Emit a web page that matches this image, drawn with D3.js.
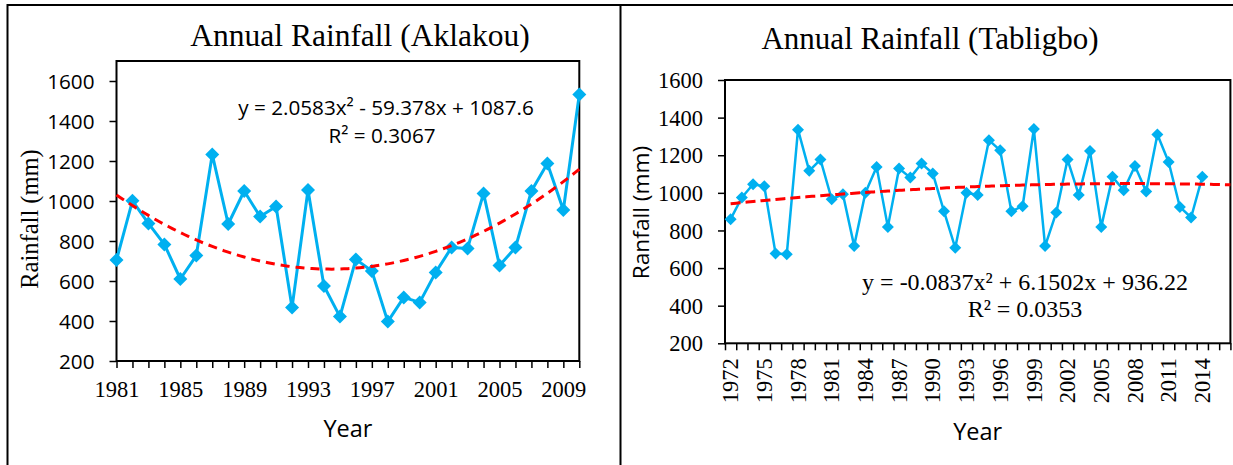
<!DOCTYPE html>
<html>
<head>
<meta charset="utf-8">
<script src="https://cdn.jsdelivr.net/npm/d3@7"></script>
<style>
  html, body { margin: 0; padding: 0; background: #fff; }
  svg { display: block; }
</style>
</head>
<body>
<svg id="chart" width="1233" height="465"></svg>
<script>
const SERIF = '"Liberation Serif", "Times New Roman", serif';
const SANS = '"Open Sans", "Noto Sans", sans-serif';
const BLUE = '#00B0F0';
const RED = '#FF0000';

// ---- Aklakou (1981-2010) ----
const aklakouYears = [1981, 1982, 1983, 1984, 1985, 1986, 1987, 1988, 1989, 1990,
  1991, 1992, 1993, 1994, 1995, 1996, 1997, 1998, 1999, 2000,
  2001, 2002, 2003, 2004, 2005, 2006, 2007, 2008, 2009, 2010];
const aklakouRain = [705, 1001, 888, 783, 610, 727, 1233, 885, 1050, 922,
  972, 467, 1055, 575, 422, 708, 650, 397, 518, 493,
  643, 768, 763, 1038, 677, 767, 1050, 1188, 955, 1533];
const aklakouXLabels = [1981, 1985, 1989, 1993, 1997, 2001, 2005, 2009];
const aklakouYTicks = [200, 400, 600, 800, 1000, 1200, 1400, 1600];
const aklakouTrend = [2.0583, -59.378, 1087.6]; // a x^2 + b x + c, x = 1..n
const aklakouEquation = ['y = 2.0583x\u00B2 - 59.378x + 1087.6', 'R\u00B2 = 0.3067'];

// ---- Tabligbo (1972-2014, axis runs to 2016) ----
const tabligboAxisYears = [1972, 1973, 1974, 1975, 1976, 1977, 1978, 1979, 1980,
  1981, 1982, 1983, 1984, 1985, 1986, 1987, 1988, 1989, 1990,
  1991, 1992, 1993, 1994, 1995, 1996, 1997, 1998, 1999, 2000,
  2001, 2002, 2003, 2004, 2005, 2006, 2007, 2008, 2009, 2010,
  2011, 2012, 2013, 2014, 2015, 2016];
const tabligboRain = [860, 975, 1046, 1035, 678, 673, 1336, 1117, 1177,
  966, 993, 718, 1000, 1138, 819, 1129, 1081, 1156, 1103,
  902, 708, 1000, 989, 1280, 1226, 902, 929, 1340, 717,
  896, 1177, 989, 1223, 819, 1085, 1014, 1143, 1007, 1310,
  1164, 925, 869, 1085];
const tabligboXLabels = [1972, 1975, 1978, 1981, 1984, 1987, 1990, 1993, 1996,
  1999, 2002, 2005, 2008, 2011, 2014];
const tabligboYTicks = [200, 400, 600, 800, 1000, 1200, 1400, 1600];
const tabligboTrend = [-0.0837, 6.1502, 936.22];
const tabligboEquation = ['y = -0.0837x\u00B2 + 6.1502x + 936.22', 'R\u00B2 = 0.0353'];

const svg = d3.select('#chart');
svg.append('rect').attr('width', 1233).attr('height', 465).attr('fill', '#fff');

// panel frames
svg.append('path')
  .attr('d', 'M7.5,465 V5 H1233 M620.5,5 V465')
  .attr('fill', 'none').attr('stroke', '#000').attr('stroke-width', 2);

const diamond = r => `M0,${-r}L${r},0L0,${r}L${-r},0Z`;
const quad = (k, x) => k[0] * x * x + k[1] * x + k[2];

function styleAxisText(g, family, size) {
  g.selectAll('text').attr('font-family', family).attr('font-size', size).attr('fill', '#000');
  g.selectAll('line').attr('stroke', '#000').attr('stroke-width', 1.5);
}

// ================= Aklakou =================
{
  const left = 116.5, right = 579.3, top = 61, bottom = 361;
  const x = d3.scaleLinear().domain([aklakouYears[0], aklakouYears[aklakouYears.length - 1]]).range([left, right]);
  const y = d3.scaleLinear().domain([200, 1700]).range([bottom, top]);
  const g = svg.append('g');

  g.append('text').text('Annual Rainfall (Aklakou)')
    .attr('x', 360).attr('y', 46).attr('text-anchor', 'middle')
    .attr('font-family', SERIF).attr('font-size', 31.5);

  const yAxis = g.append('g').attr('transform', `translate(${left},0)`)
    .call(d3.axisLeft(y).tickValues(aklakouYTicks).tickSize(7).tickPadding(15).tickFormat(d3.format('d')));
  yAxis.select('.domain').remove();
  styleAxisText(yAxis, SANS, 20.7);
  yAxis.selectAll('text').attr('dy', '0.36em');

  const xAxis = g.append('g').attr('transform', `translate(0,${bottom})`)
    .call(d3.axisBottom(x).tickValues(aklakouYears).tickSize(7).tickPadding(13)
      .tickFormat(d => aklakouXLabels.includes(d) ? String(d) : ''));
  xAxis.select('.domain').remove();
  styleAxisText(xAxis, SERIF, 22.5);

  g.append('rect').attr('x', left).attr('y', top).attr('width', right - left).attr('height', bottom - top)
    .attr('fill', 'none').attr('stroke', '#000').attr('stroke-width', 2);

  g.append('text').text('Rainfall (mm)')
    .attr('transform', `translate(37.5,219) rotate(-90)`).attr('text-anchor', 'middle')
    .attr('font-family', SERIF).attr('font-size', 24.5);
  g.append('text').text('Year')
    .attr('x', (left + right) / 2).attr('y', 437).attr('text-anchor', 'middle')
    .attr('font-family', SANS).attr('font-size', 23.5);

  const pts = aklakouYears.map((yr, i) => [x(yr), y(aklakouRain[i])]);
  g.append('path').attr('d', d3.line()(pts))
    .attr('fill', 'none').attr('stroke', BLUE).attr('stroke-width', 3).attr('stroke-linejoin', 'round');
  g.selectAll('.mk').data(pts).join('path').attr('class', 'mk')
    .attr('transform', d => `translate(${d[0]},${d[1]})`).attr('d', diamond(7)).attr('fill', BLUE);

  const n = aklakouYears.length;
  const trendPts = d3.range(1, n + 0.001, 0.25).map(t => [x(aklakouYears[0] + t - 1), y(quad(aklakouTrend, t))]);
  g.append('path').attr('d', d3.line()(trendPts))
    .attr('fill', 'none').attr('stroke', RED).attr('stroke-width', 3).attr('stroke-dasharray', '9,6');

  g.append('text').text(aklakouEquation[0]).attr('x', 386).attr('y', 115).attr('text-anchor', 'middle')
    .attr('font-family', SANS).attr('font-size', 20.7);
  g.append('text').text(aklakouEquation[1]).attr('x', 382).attr('y', 143).attr('text-anchor', 'middle')
    .attr('font-family', SANS).attr('font-size', 20.7);
}

// ================= Tabligbo =================
{
  const left = 725, right = 1230.4, top = 80, bottom = 343.3;
  const nCat = tabligboAxisYears.length;
  const xb = d3.scaleBand().domain(tabligboAxisYears).range([left, right]).padding(0);
  const xi = d3.scaleLinear().domain([0, nCat]).range([left, right]);
  const y = d3.scaleLinear().domain([200, 1600]).range([bottom, top]);
  const g = svg.append('g');

  g.append('text').text('Annual Rainfall (Tabligbo)')
    .attr('x', 930).attr('y', 48.5).attr('text-anchor', 'middle')
    .attr('font-family', SERIF).attr('font-size', 31);

  const yAxis = g.append('g').attr('transform', `translate(${left},0)`)
    .call(d3.axisLeft(y).tickValues(tabligboYTicks).tickSize(7).tickPadding(15).tickFormat(d3.format('d')));
  yAxis.select('.domain').remove();
  styleAxisText(yAxis, SERIF, 22.5);
  yAxis.selectAll('text').attr('dy', '0.34em');

  // tick marks at category boundaries
  const xTicks = g.append('g').attr('transform', `translate(0,${bottom})`)
    .call(d3.axisBottom(xi).tickValues(d3.range(0, nCat + 1)).tickSize(7).tickFormat(''));
  xTicks.select('.domain').remove();
  styleAxisText(xTicks, SERIF, 22.5);

  // rotated year labels at category centres
  const xLab = g.append('g').attr('transform', `translate(0,${bottom})`)
    .call(d3.axisBottom(xb).tickValues(tabligboXLabels).tickSize(0));
  xLab.select('.domain').remove();
  styleAxisText(xLab, SERIF, 22.5);
  xLab.selectAll('text')
    .attr('x', -15).attr('y', 0).attr('dy', '0.34em')
    .attr('text-anchor', 'end').attr('transform', 'rotate(-90)');

  g.append('rect').attr('x', left).attr('y', top).attr('width', right - left).attr('height', bottom - top)
    .attr('fill', 'none').attr('stroke', '#000').attr('stroke-width', 2);

  g.append('text').text('Ranfall (mm)')
    .attr('transform', `translate(648.5,212.5) rotate(-90)`).attr('text-anchor', 'middle')
    .attr('font-family', SANS).attr('font-size', 22.7);
  g.append('text').text('Year')
    .attr('x', (left + right) / 2).attr('y', 440).attr('text-anchor', 'middle')
    .attr('font-family', SANS).attr('font-size', 23.5);

  const bw = xb.bandwidth();
  const pts = tabligboRain.map((v, i) => [xb(tabligboAxisYears[i]) + bw / 2, y(v)]);
  g.append('path').attr('d', d3.line()(pts))
    .attr('fill', 'none').attr('stroke', BLUE).attr('stroke-width', 2.5).attr('stroke-linejoin', 'round');
  g.selectAll('.mk').data(pts).join('path').attr('class', 'mk')
    .attr('transform', d => `translate(${d[0]},${d[1]})`).attr('d', diamond(6)).attr('fill', BLUE);

  const trendPts = d3.range(1, nCat + 0.5001, 0.25).map(t => [xi(t - 0.5), y(quad(tabligboTrend, t))]);
  g.append('path').attr('d', d3.line()(trendPts))
    .attr('fill', 'none').attr('stroke', RED).attr('stroke-width', 3).attr('stroke-dasharray', '10,5');

  g.append('text').text(tabligboEquation[0]).attr('x', 1025).attr('y', 290).attr('text-anchor', 'middle')
    .attr('font-family', SERIF).attr('font-size', 24);
  g.append('text').text(tabligboEquation[1]).attr('x', 1025).attr('y', 317).attr('text-anchor', 'middle')
    .attr('font-family', SERIF).attr('font-size', 24);
}
</script>
</body>
</html>
